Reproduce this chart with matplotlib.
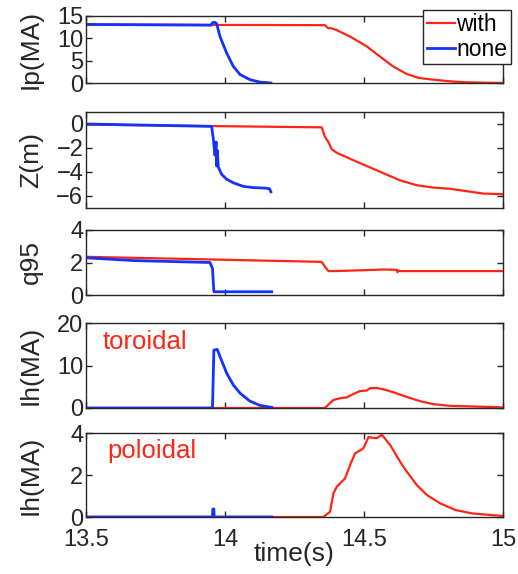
import matplotlib
matplotlib.use("Agg")
import matplotlib.pyplot as plt

plt.rcParams['font.family'] = ['Liberation Sans', 'DejaVu Sans']

RED = '#ff2414'
BLUE = '#1432ff'
DARK = '#262626'

# ---- Data ----
ip_with_t = [13.5, 13.96, 14.36, 14.368, 14.374, 14.38, 14.40, 14.45, 14.51, 14.558, 14.605, 14.654, 14.70, 14.75, 14.81, 14.87, 15.0]
ip_with_v = [13.1, 13.0, 12.95, 12.4, 12.2, 12.3, 11.9, 10.4, 8.2, 5.9, 3.7, 2.0, 1.1, 0.74, 0.37, 0.15, 0.0]
ip_none_t = [13.5, 13.95, 13.955, 13.962, 13.97, 13.982, 14.006, 14.03, 14.054, 14.09, 14.126, 14.165]
ip_none_v = [13.1, 12.95, 13.5, 13.6, 13.3, 10.4, 6.7, 3.7, 1.9, 0.74, 0.2, 0.0]

z_with_t = [13.5, 14.348, 14.36, 14.372, 14.384, 14.402, 14.45, 14.51, 14.57, 14.63, 14.69, 14.75, 14.81, 14.87, 14.93, 15.0]
z_with_v = [-0.05, -0.28, -1.1, -1.5, -2.1, -2.4, -2.9, -3.5, -4.1, -4.7, -5.1, -5.3, -5.4, -5.6, -5.8, -5.85]
z_none_t = [13.5, 13.952, 13.958, 13.964, 13.968, 13.970, 13.972, 13.976, 13.988, 14.006, 14.03, 14.066, 14.102, 14.15, 14.16, 14.165]
z_none_v = [0.0, -0.2, -1.25, -2.6, -1.5, -3.5, -2.2, -3.6, -4.2, -4.6, -4.9, -5.2, -5.3, -5.35, -5.4, -5.65]

q_with_t = [13.5, 14.348, 14.36, 14.372, 14.39, 14.51, 14.57, 14.618, 14.62, 14.625, 14.63, 15.0]
q_with_v = [2.35, 2.04, 1.73, 1.47, 1.47, 1.53, 1.57, 1.55, 1.4, 1.5, 1.47, 1.47]
q_none_t = [13.5, 13.67, 13.946, 13.955, 13.96, 14.168]
q_none_v = [2.29, 2.12, 2.0, 1.63, 0.2, 0.2]

tor_with_t = [13.5, 14.36, 14.372, 14.39, 14.414, 14.438, 14.462, 14.486, 14.51, 14.522, 14.546, 14.57, 14.606, 14.654, 14.702, 14.75, 14.81, 14.87, 15.0]
tor_with_v = [0.0, 0.0, 0.8, 1.9, 2.3, 2.5, 3.3, 4.0, 4.1, 4.7, 4.7, 4.4, 3.7, 2.6, 1.6, 0.9, 0.5, 0.4, 0.15]
tor_none_t = [13.5, 13.955, 13.96, 13.972, 13.982, 14.006, 14.03, 14.054, 14.09, 14.126, 14.168]
tor_none_v = [0.0, 0.0, 13.6, 13.8, 12.1, 8.2, 5.4, 3.5, 1.6, 0.6, 0.15]

pol_with_t = [13.5, 14.354, 14.378, 14.39, 14.402, 14.432, 14.45, 14.468, 14.498, 14.516, 14.546, 14.564, 14.594, 14.63, 14.654, 14.69, 14.726, 14.774, 14.83, 14.89, 14.95, 15.0]
pol_with_v = [0.0, 0.0, 0.25, 1.13, 1.44, 1.84, 2.48, 3.03, 3.27, 3.8, 3.75, 3.92, 3.43, 2.63, 2.16, 1.52, 1.05, 0.65, 0.33, 0.17, 0.1, 0.05]
pol_none_t = [13.5, 13.955, 13.956, 13.96, 13.961, 14.168]
pol_none_v = [0.0, 0.0, 0.38, 0.38, 0.0, 0.0]

panels = [
    (ip_with_t, ip_with_v, ip_none_t, ip_none_v, 'Ip(MA)', (0, 15), [0, 5, 10, 15]),
    (z_with_t, z_with_v, z_none_t, z_none_v, 'Z(m)', (-7, 1), [-6, -4, -2, 0]),
    (q_with_t, q_with_v, q_none_t, q_none_v, 'q95', (0, 4), [0, 2, 4]),
    (tor_with_t, tor_with_v, tor_none_t, tor_none_v, 'Ih(MA)', (0, 20), [0, 10, 20]),
    (pol_with_t, pol_with_v, pol_none_t, pol_none_v, 'Ih(MA)', (0, 4), [0, 2, 4]),
]

W, H = 518, 574
fig = plt.figure(figsize=(W / 100, H / 100), dpi=100)

# (top, bottom) in pixels
boxes = [(16, 83), (112, 208), (230, 295), (323, 408), (433, 517)]
left_px, right_px = 86, 503

axes = []
for i, ((wt, wv, nt, nv, lab, ylim, yt), (top, bot)) in enumerate(zip(panels, boxes)):
    ax = fig.add_axes([left_px / W, 1 - bot / H, (right_px - left_px) / W, (bot - top) / H])
    ax.plot(wt, wv, color=RED, lw=1.6, label='with')
    ax.plot(nt, nv, color=BLUE, lw=2.0, label='none')
    ax.set_xlim(13.5, 15)
    ax.set_ylim(*ylim)
    ax.set_yticks(yt)
    ax.set_xticks([13.5, 14, 14.5, 15])
    ax.tick_params(direction='in', top=True, right=True, length=4, width=1,
                   labelsize=17, colors=DARK)
    ax.tick_params(axis='y', pad=2)
    ax.tick_params(axis='x', pad=8.5)
    for s in ax.spines.values():
        s.set_color(DARK)
        s.set_linewidth(1.0)
    ax.set_ylabel(lab, fontsize=19, color=DARK)
    ax.yaxis.set_label_coords(-0.103, 0.5)
    if i < 4:
        ax.set_xticklabels([])
    else:
        ax.set_xticklabels(['13.5', '14', '14.5', '15'])
        ax.set_xlabel('time(s)', fontsize=19, color=DARK, labelpad=-6)
    axes.append(ax)

leg = axes[0].legend(loc='upper right', bbox_to_anchor=(1.019, 1.09), fontsize=16.5,
                     frameon=True, fancybox=False, handlelength=1.25, handletextpad=0.05,
                     borderpad=0.15, labelspacing=0.05, borderaxespad=0.0)
leg.get_frame().set_edgecolor(DARK)
leg.get_frame().set_linewidth(1.0)
leg.get_frame().set_alpha(1.0)

axes[3].text(0.04, 0.78, 'toroidal', transform=axes[3].transAxes, color=RED,
             fontsize=18.5, va='center', ha='left')
axes[4].text(0.05, 0.78, 'poloidal', transform=axes[4].transAxes, color=RED,
             fontsize=18.5, va='center', ha='left')

fig.savefig('out.png', dpi=100)
